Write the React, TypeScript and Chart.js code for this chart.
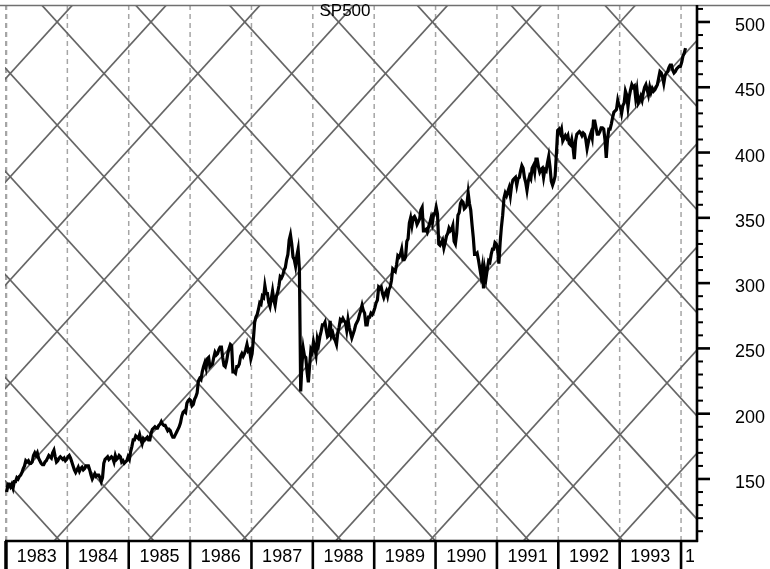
import React, { useEffect, useRef } from 'react';
import { Chart, registerables } from 'chart.js';

Chart.register(...registerables);

const TITLE = 'SP500';
const FONT = '"Liberation Sans", Arial, Helvetica, sans-serif';

const YEARS = [1983, 1984, 1985, 1986, 1987, 1988, 1989, 1990, 1991, 1992, 1993, 1994];
const YEAR_LABELS = ['1983', '1984', '1985', '1986', '1987', '1988', '1989', '1990', '1991', '1992', '1993', '1994'];
const Y_TICKS = [150, 200, 250, 300, 350, 400, 450, 500];
const Y_MINOR_TICKS = [110, 120, 130, 140, 160, 170, 180, 190, 210, 220, 230, 240, 260, 270, 280, 290, 310, 320, 330, 340, 360, 370, 380, 390, 410, 420, 430, 440, 460, 470, 480, 490, 510];

const X_MIN = 1982.984;
const X_MAX = 1994.26;
const Y_MIN = 102.5;
const Y_MAX = 513;

// Gann-style diagonal grid
const GRID_ANCHOR_YEAR = 1993.007;
const GRID_ANCHOR_PRICE = 500;
const GRID_PERIOD_YEARS = 1.529;
const GRID_STEP_PRICE = 79;

const POINTS_PER_YEAR = 48; // weekly-ish readings

const P1983 = [140, 146, 146, 144, 146, 143, 148, 148, 151, 150, 152, 153, 155, 158, 160, 164, 163, 164, 162, 162, 163, 168, 170, 168, 170, 166, 164, 162, 161, 161, 163, 164, 166, 168, 167, 166, 170, 172, 167, 163, 164, 166, 167, 166, 165, 166, 164, 165];
const P1984 = [167, 168, 166, 163, 160, 157, 155, 157, 159, 156, 158, 159, 157, 158, 160, 160, 160, 157, 153, 150, 152, 154, 152, 153, 153, 151, 148, 151, 162, 165, 166, 167, 165, 166, 167, 166, 163, 168, 165, 166, 168, 167, 163, 164, 162, 163, 164, 167];
const P1985 = [165, 171, 175, 180, 180, 183, 182, 181, 184, 180, 177, 181, 180, 181, 182, 180, 180, 185, 188, 189, 190, 189, 189, 191, 192, 194, 192, 191, 191, 189, 187, 188, 187, 184, 182, 182, 184, 186, 188, 190, 193, 198, 201, 202, 201, 208, 210, 211];
const P1986 = [210, 206, 207, 211, 213, 216, 225, 227, 226, 232, 236, 239, 235, 242, 243, 236, 237, 238, 243, 247, 245, 246, 249, 251, 251, 243, 237, 236, 240, 246, 250, 253, 252, 232, 232, 231, 236, 236, 238, 244, 246, 244, 246, 249, 253, 248, 249, 242];
const P1987 = [246, 257, 270, 274, 276, 280, 285, 284, 290, 289, 298, 292, 292, 285, 282, 288, 294, 287, 283, 290, 293, 298, 305, 304, 306, 310, 312, 318, 322, 333, 337, 330, 320, 318, 313, 321, 326, 311, 217, 238, 250, 244, 243, 232, 224, 237, 249, 247];
const P1988 = [255, 250, 245, 257, 253, 259, 263, 268, 268, 270, 264, 259, 260, 271, 260, 262, 258, 256, 253, 262, 266, 272, 271, 273, 271, 270, 264, 272, 266, 262, 258, 261, 264, 268, 270, 272, 276, 279, 283, 279, 277, 268, 268, 274, 274, 277, 276, 278];
const P1989 = [281, 285, 287, 297, 296, 297, 292, 289, 292, 294, 290, 295, 297, 302, 311, 310, 309, 314, 321, 320, 322, 326, 318, 318, 320, 332, 334, 346, 350, 344, 350, 351, 349, 345, 347, 349, 356, 358, 340, 340, 341, 339, 343, 346, 350, 346, 353, 353];
const P1990 = [358, 353, 330, 329, 331, 333, 327, 331, 336, 338, 342, 340, 341, 344, 332, 330, 338, 352, 354, 361, 363, 362, 357, 358, 360, 369, 361, 356, 345, 335, 322, 322, 323, 318, 312, 306, 312, 296, 310, 304, 311, 317, 316, 322, 326, 326, 331, 330];
const P1991 = [326, 315, 331, 343, 352, 365, 369, 367, 370, 373, 367, 375, 379, 380, 381, 375, 380, 381, 386, 390, 388, 381, 377, 371, 378, 382, 380, 388, 390, 385, 395, 395, 389, 385, 387, 388, 381, 387, 386, 392, 397, 389, 378, 375, 378, 382, 399, 417];
const P1992 = [418, 415, 418, 409, 411, 413, 411, 413, 407, 406, 410, 404, 395, 409, 414, 415, 416, 415, 413, 415, 414, 410, 403, 408, 412, 415, 411, 424, 424, 419, 414, 414, 416, 419, 419, 418, 410, 396, 410, 418, 418, 422, 427, 431, 432, 433, 440, 436];
const P1993 = [435, 430, 436, 438, 447, 444, 435, 443, 448, 452, 450, 451, 442, 448, 438, 440, 443, 440, 446, 450, 452, 448, 444, 450, 446, 449, 447, 448, 450, 452, 457, 462, 461, 458, 453, 459, 461, 462, 465, 467, 467, 463, 461, 462, 464, 465, 466, 466];
const P1994 = [469, 474, 476, 480];

const PRICE_SERIES = [P1983, P1984, P1985, P1986, P1987, P1988, P1989, P1990, P1991, P1992, P1993, P1994];

function buildPricePoints() {
  const pts: { x: number; y: number }[] = [];
  PRICE_SERIES.forEach((arr, yi) => {
    arr.forEach((v, i) => {
      pts.push({ x: YEARS[yi] + (i + 0.5) / POINTS_PER_YEAR, y: v });
    });
  });
  return pts;
}

function buildGridDatasets() {
  const slope = GRID_STEP_PRICE / GRID_PERIOD_YEARS;
  const sets: any[] = [];
  for (let j = -12; j <= 12; j++) {
    const t0 = GRID_ANCHOR_YEAR + GRID_PERIOD_YEARS * j;
    for (const dir of [1, -1]) {
      sets.push({
        data: [
          { x: X_MIN - 1, y: GRID_ANCHOR_PRICE + dir * slope * (X_MIN - 1 - t0) },
          { x: X_MAX + 1, y: GRID_ANCHOR_PRICE + dir * slope * (X_MAX + 1 - t0) },
        ],
        borderColor: '#666666',
        borderWidth: 1.7,
        pointRadius: 0,
        tension: 0,
        order: 2,
      });
    }
  }
  return sets;
}

const decorPlugin = {
  id: 'decor',
  beforeDatasetsDraw(chart: any) {
    const { ctx, chartArea: a, scales } = chart;
    const x = scales.x;
    ctx.save();
    ctx.beginPath();
    ctx.rect(a.left, a.top, a.right - a.left, a.bottom - a.top);
    ctx.clip();
    ctx.strokeStyle = '#a5a5a5';
    ctx.setLineDash([5, 4]);
    YEARS.forEach((yr, i) => {
      const px = x.getPixelForValue(yr);
      ctx.lineWidth = i === 0 ? 2.6 : 1.5;
      ctx.beginPath();
      ctx.moveTo(px, a.top);
      ctx.lineTo(px, a.bottom);
      ctx.stroke();
    });
    ctx.restore();
  },
  afterDraw(chart: any) {
    const { ctx, chartArea: a, scales, width } = chart;
    const x = scales.x;
    const y = scales.y;
    ctx.save();
    // top frame line
    ctx.strokeStyle = '#707070';
    ctx.lineWidth = 1.6;
    ctx.beginPath();
    ctx.moveTo(0, a.top + 0.5);
    ctx.lineTo(width, a.top + 0.5);
    ctx.stroke();

    ctx.strokeStyle = '#000';
    // right axis
    ctx.lineWidth = 2.6;
    ctx.beginPath();
    ctx.moveTo(a.right, a.top);
    ctx.lineTo(a.right, a.bottom + 1);
    ctx.stroke();
    // bottom axis
    ctx.beginPath();
    ctx.moveTo(x.getPixelForValue(YEARS[0]) - 1, a.bottom);
    ctx.lineTo(a.right + 1, a.bottom);
    ctx.stroke();

    // y ticks
    Y_TICKS.forEach((v) => {
      const py = y.getPixelForValue(v);
      ctx.lineWidth = 2.6;
      ctx.beginPath();
      ctx.moveTo(a.right, py);
      ctx.lineTo(a.right + 13, py);
      ctx.stroke();
    });
    Y_MINOR_TICKS.forEach((v) => {
      const py = y.getPixelForValue(v);
      if (py < a.top || py > a.bottom) return;
      ctx.lineWidth = 2;
      ctx.beginPath();
      ctx.moveTo(a.right, py);
      ctx.lineTo(a.right + 6, py);
      ctx.stroke();
    });

    // year boundary ticks below axis
    YEARS.forEach((yr, i) => {
      const px = x.getPixelForValue(yr);
      ctx.lineWidth = i === 0 ? 3.5 : 2.6;
      ctx.beginPath();
      ctx.moveTo(px, a.bottom);
      ctx.lineTo(px, chart.height);
      ctx.stroke();
    });

    // year labels
    ctx.fillStyle = '#000';
    ctx.font = `18px ${FONT}`;
    ctx.textBaseline = 'middle';
    const labelY = a.bottom + 16;
    for (let i = 0; i < YEARS.length - 1; i++) {
      const cx = (x.getPixelForValue(YEARS[i]) + x.getPixelForValue(YEARS[i + 1])) / 2;
      ctx.textAlign = 'center';
      ctx.fillText(YEAR_LABELS[i], cx, labelY);
    }
    const lastX = x.getPixelForValue(YEARS[YEARS.length - 1]);
    ctx.save();
    ctx.beginPath();
    ctx.rect(lastX + 1, a.bottom + 2, a.right - 4 - lastX, 40);
    ctx.clip();
    ctx.textAlign = 'left';
    ctx.fillText(YEAR_LABELS[YEAR_LABELS.length - 1], lastX + 4, labelY);
    ctx.restore();

    // title
    ctx.font = `17px ${FONT}`;
    ctx.textAlign = 'center';
    ctx.textBaseline = 'middle';
    ctx.fillText(TITLE, 345, a.top + 6);
    ctx.restore();
  },
};

export default function App() {
  const canvasRef = useRef<HTMLCanvasElement | null>(null);

  useEffect(() => {
    const canvas = canvasRef.current;
    if (!canvas) return;
    const chart = new Chart(canvas, {
      type: 'line',
      data: {
        datasets: [
          {
            data: buildPricePoints(),
            borderColor: '#000',
            borderWidth: 3.2,
            pointRadius: 0,
            tension: 0,
            order: 0,
          },
          ...buildGridDatasets(),
        ],
      },
      options: {
        responsive: false,
        animation: false,
        events: [],
        devicePixelRatio: 1,
        layout: { padding: { left: 5, top: 5, right: 0, bottom: 28 } },
        plugins: { legend: { display: false }, tooltip: { enabled: false }, title: { display: false } },
        scales: {
          x: {
            type: 'linear',
            min: X_MIN,
            max: X_MAX,
            display: false,
          },
          y: {
            type: 'linear',
            position: 'right',
            min: Y_MIN,
            max: Y_MAX,
            grid: { display: false, drawTicks: false },
            border: { display: false },
            afterBuildTicks: (s: any) => {
              s.ticks = Y_TICKS.map((v) => ({ value: v }));
            },
            afterFit: (s: any) => {
              s.width = 73;
              s.paddingTop = 0;
              s.paddingBottom = 0;
              s.paddingLeft = 0;
              s.paddingRight = 0;
            },
            ticks: {
              padding: 38,
              labelOffset: 4,
              color: '#000',
              font: { family: FONT, size: 18 },
              callback: (v: any) => String(v),
            },
          },
        },
      },
      plugins: [decorPlugin],
    });
    return () => chart.destroy();
  }, []);

  return (
    <div style={{ position: 'fixed', left: 0, top: 0, width: 770, height: 569, background: '#fff' }}>
      <canvas ref={canvasRef} width={770} height={569} style={{ display: 'block' }} />
    </div>
  );
}
